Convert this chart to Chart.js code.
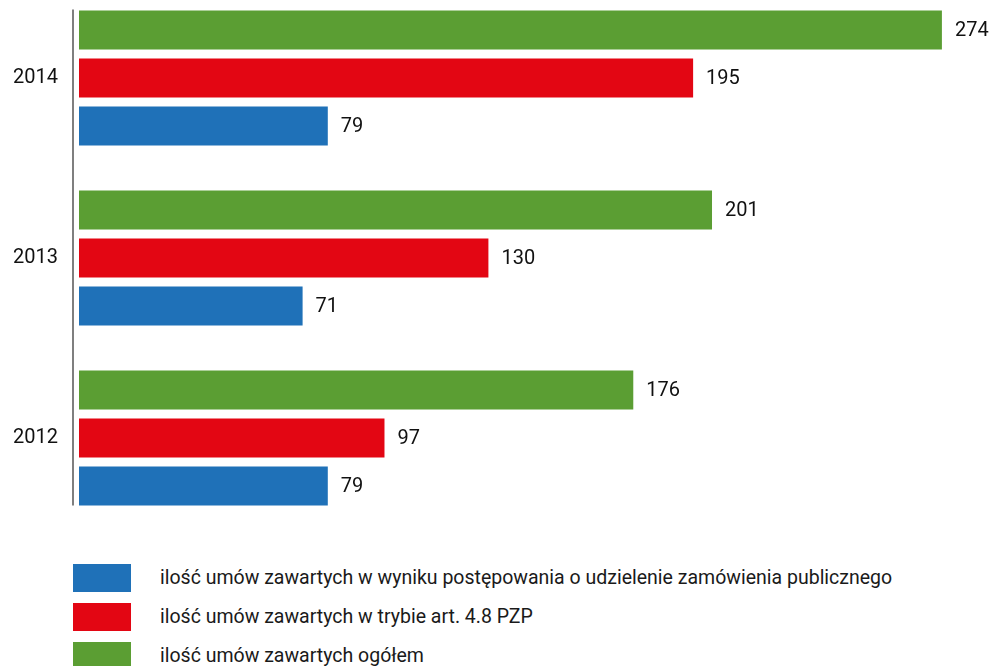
<!DOCTYPE html>
<html>
<head>
<meta charset="utf-8">
<script src="https://cdn.jsdelivr.net/npm/chart.js@4/dist/chart.umd.min.js"></script>
<style>
  body { margin: 0; background: #fff; }
  #page { position: relative; width: 991px; height: 666px; overflow: hidden; font-family: Roboto, sans-serif; }
  #wrap { position: absolute; left: 0; top: -23px; width: 991px; height: 552px; }
  .leg { position: absolute; left: 73px; height: 28px; }
  .leg span.box { position: absolute; left: 0; top: 0; width: 58px; height: 28px; }
  .leg span.txt { position: absolute; left: 87px; top: 2px; white-space: nowrap; font-size: 19.5px; color: #1a1a1a; line-height: 24px; }
</style>
</head>
<body>
<div id="page">
  <div id="wrap"><canvas id="chart1"></canvas></div>
  <div id="legend"></div>
</div>
<script>
const years = ["2014", "2013", "2012"];
const totalAll = [274, 201, 176];
const art48 = [195, 130, 97];
const tender = [79, 71, 79];

const seriesNames = [
    "ilość umów zawartych ogółem",
    "ilość umów zawartych w trybie art. 4.8 PZP",
    "ilość umów zawartych w wyniku postępowania o udzielenie zamówienia publicznego"
];
const colors = ["#5b9e33", "#e30613", "#1f71b8"];

// legend below the chart (blue, red, green order like the original)
const legend = document.getElementById("legend");
const legendOrder = [2, 1, 0];
legendOrder.forEach((idx, i) => {
    const d = document.createElement("div");
    d.className = "leg";
    d.style.top = (564 + i * 39) + "px";
    d.innerHTML = '<span class="box" style="background:' + colors[idx] + '"></span><span class="txt">' + seriesNames[idx] + '</span>';
    legend.appendChild(d);
});

const valueLabels = {
    id: "valueLabels",
    afterDatasetsDraw(chart) {
        const ctx = chart.ctx;
        ctx.save();
        ctx.font = "20px Roboto, sans-serif";
        ctx.fillStyle = "#111";
        ctx.textBaseline = "middle";
        let top = Infinity, bottom = -Infinity;
        chart.data.datasets.forEach((ds, i) => {
            chart.getDatasetMeta(i).data.forEach((bar, j) => {
                ctx.fillText(ds.data[j], bar.x + 13, bar.y + 1);
                top = Math.min(top, bar.y - bar.height / 2);
                bottom = Math.max(bottom, bar.y + bar.height / 2);
            });
        });
        // left axis line
        const x = chart.chartArea.left - 6;
        ctx.strokeStyle = "#555";
        ctx.lineWidth = 1.5;
        ctx.beginPath();
        ctx.moveTo(x, top - 1);
        ctx.lineTo(x, bottom);
        ctx.stroke();
        ctx.restore();
    }
};

const chart1 = document.getElementById("chart1");
const barChart = new Chart(chart1, {
    type: "bar",
    data: {
        labels: years,
        datasets: [
            { label: seriesNames[0], data: totalAll, backgroundColor: colors[0] },
            { label: seriesNames[1], data: art48, backgroundColor: colors[1] },
            { label: seriesNames[2], data: tender, backgroundColor: colors[2] }
        ]
    },
    options: {
        indexAxis: "y",
        responsive: true,
        maintainAspectRatio: false,
        animation: false,
        categoryPercentage: 0.8,
        barPercentage: 0.81,
        layout: { padding: { top: 11, bottom: 1, left: 0, right: 5 } },
        plugins: { legend: { display: false }, tooltip: { enabled: false } },
        scales: {
            x: { display: false, min: 0, max: 288 },
            y: {
                grid: { display: false, drawTicks: false },
                border: { display: false },
                ticks: { color: "#111", font: { family: "Roboto", size: 20 }, padding: 21 },
                afterFit(scale) {
                    scale.width = 79;
                    scale.paddingTop = 0;
                    scale.paddingBottom = 0;
                }
            }
        }
    },
    plugins: [valueLabels]
});
</script>
</body>
</html>
